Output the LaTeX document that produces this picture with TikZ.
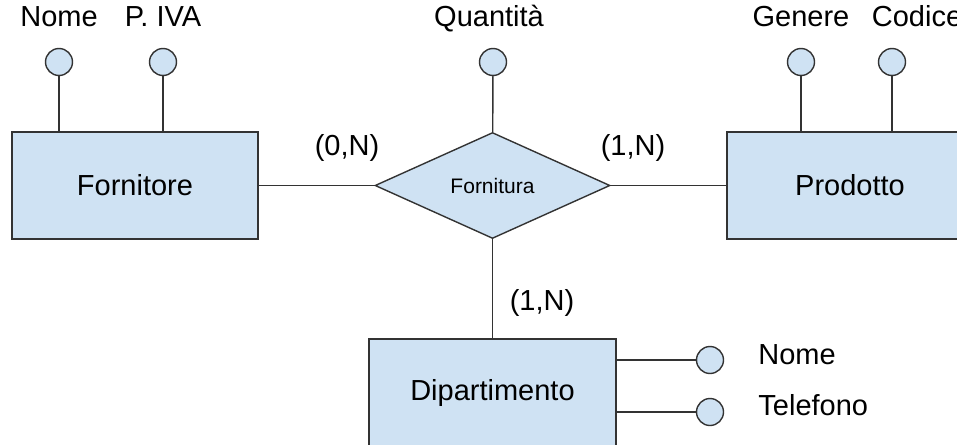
\documentclass[tikz,border=0pt]{standalone}
\usepackage{fontspec}
\setmainfont{Liberation Sans}
\usepackage{tikz}
\usetikzlibrary{positioning, shapes.geometric}
\definecolor{erfill}{RGB}{207, 226, 243}
\definecolor{erline}{RGB}{51, 51, 51}

\begin{document}
\begin{tikzpicture}[
    x=0.5pt, y=-0.5pt,
    entity/.style={rectangle, draw=erline, fill=erfill, line width=0.7pt, minimum width=123pt, minimum height=53.5pt, inner sep=0pt, font=\fontsize{14.5}{17}\selectfont},
    relation/.style={diamond, draw=erline, fill=erfill, line width=0.7pt, minimum width=117.5pt, minimum height=53pt, inner sep=0pt, font=\fontsize{10.5}{12}\selectfont},
    attr/.style={circle, draw=erline, fill=erfill, line width=0.7pt, minimum size=13.5pt, inner sep=0pt},
    lbl/.style={inner sep=0pt, text depth=0pt, font=\fontsize{14.5}{17}\selectfont},
    card/.style={inner sep=0pt, font=\fontsize{14.5}{17}\selectfont},
    link/.style={draw=erline, line width=0.7pt}
]
    \useasboundingbox (0,0) rectangle (957,444);
    \clip (0,0) rectangle (957,444);

    % Entities and relationship
    \node[entity] (fornitore) at (135,185.5) {Fornitore};
    \node[relation] (fornitura) at (492.5,185.5) {Fornitura};
    \node[entity] (prodotto) at (850,185.5) {Prodotto};
    \node[entity, minimum width=123.5pt] (dipartimento) at (492.5,392.5) {Dipartimento};

    % Attributes
    \node[attr] (fnome) at (59,62) {};
    \node[attr] (fiva) at (163,62) {};
    \node[attr] (quantita) at (493,62) {};
    \node[attr] (genere) at (801,62) {};
    \node[attr] (codice) at (892,62) {};
    \node[attr] (dnome) at (710,360) {};
    \node[attr] (telefono) at (710,412) {};

    % Attribute names
    \node[lbl, above=10.25pt of fnome] (fnomelbl) {Nome};
    \node[lbl, above=10.25pt of fiva] (fivalbl) {P. IVA};
    \node[lbl, above=10.25pt of quantita, xshift=-2pt] (quantitalbl) {Quantità};
    \node[lbl, above=10.25pt of genere] (generelbl) {Genere};
    \node[lbl, above=10.25pt of codice, xshift=12.5pt] (codicelbl) {Codice};
    \node[lbl, anchor=base west] (dnomelbl) at (758,364) {Nome};
    \node[lbl, anchor=base west] (telefonolbl) at (758,415) {Telefono};

    % Cardinalities
    \node[card] (cardforn) at (347,147.5) {(0,N)};
    \node[card] (cardprod) at (633,147.5) {(1,N)};
    \node[card] (carddip) at (542,303) {(1,N)};

    \draw[link] (fornitore) -- (fornitura);
    \draw[link] (fornitura) -- (prodotto);
    \draw[link] (fornitura) -- (dipartimento);
    \draw[link] (quantita) -- (fornitura);
    \draw[link] (fnome) -- (fnome |- fornitore.north);
    \draw[link] (fiva) -- (fiva |- fornitore.north);
    \draw[link] (genere) -- (genere |- prodotto.north);
    \draw[link] (codice) -- (codice |- prodotto.north);
    \draw[link] (dnome) -- (dnome -| dipartimento.east);
    \draw[link] (telefono) -- (telefono -| dipartimento.east);
\end{tikzpicture}
\end{document}
